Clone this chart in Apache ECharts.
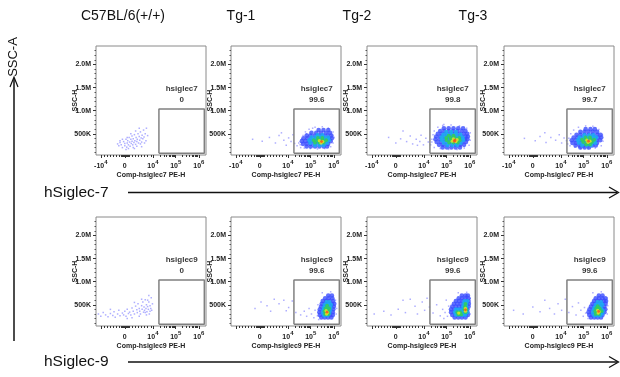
<!DOCTYPE html>
<html>
<head>
<meta charset="utf-8">
<script src="https://cdn.jsdelivr.net/npm/echarts@6/dist/echarts.min.js"></script>
<style>
  html, body { margin: 0; padding: 0; background: #fff; }
  #chart { width: 620px; height: 377px; }
</style>
</head>
<body>
<div id="chart"></div>
<script>
const groups = ["C57BL/6(+/+)", "Tg-1", "Tg-2", "Tg-3"];
const markers = ["hSiglec-7", "hSiglec-9"];
const gateNames = ["hsiglec7", "hsiglec9"];
const xNames = ["Comp-hsiglec7 PE-H", "Comp-hsiglec9 PE-H"];
const gateValues = [["0", "99.6", "99.8", "99.7"], ["0", "99.6", "99.6", "99.6"]];

// x is in biexponential display units, decade ticks sit at these positions
const xTickPos = [-1, 0, 1.17, 2.12, 3.08];
const xTickBase = ["-10", "0", "10", "10", "10"];
const xTickExp = ["4", "", "4", "5", "6"];
const yTickVals = [500, 1000, 1500, 2000]; // SSC-H, in K
const gateX = [1.42, 3.31];
const gateY = [80, 1035];

// sparse events [t, ssc]
const c57Hs7Sparse = [
  [-0.3, 280], [-0.25, 240], [-0.2, 310], [-0.15, 260], [-0.1, 200], [-0.05, 330], [0, 290], [0, 240],
  [0.05, 380], [0.08, 210], [0.1, 300], [0.12, 350], [0.15, 260], [0.18, 420], [0.2, 320], [0.22, 230],
  [0.25, 380], [0.27, 290], [0.3, 340], [0.3, 450], [0.33, 260], [0.35, 390], [0.38, 310], [0.4, 480],
  [0.42, 350], [0.45, 270], [0.47, 420], [0.5, 330], [0.52, 380], [0.55, 500], [0.57, 300], [0.6, 440],
  [0.62, 360], [0.65, 540], [0.68, 410], [0.7, 320], [0.72, 470], [0.75, 390], [0.78, 580], [0.8, 430],
  [0.85, 500], [0.88, 350], [0.9, 620], [0.95, 460], [-0.2, 350], [0.1, 420], [0.35, 200], [0.5, 230],
  [0.65, 280], [0.15, 180], [0.45, 560], [0.6, 620], [0.25, 500], [-0.1, 380], [0.05, 160], [0.7, 220],
  [0.82, 300], [0.4, 180]
];
const c57Hs9Sparse = [
  [-1.1, 300], [-1.0, 250], [-0.9, 330], [-0.8, 280], [-0.7, 240], [-0.6, 310], [-0.5, 270], [-0.45, 350],
  [-0.4, 230], [-0.3, 300], [-0.25, 380], [-0.2, 260], [-0.1, 320], [-0.05, 280], [0, 360], [0.05, 250],
  [0.1, 400], [0.15, 310], [0.2, 340], [0.25, 280], [0.3, 430], [0.35, 360], [0.4, 300], [0.45, 470],
  [0.5, 390], [0.52, 330], [0.55, 520], [0.6, 420], [0.62, 360], [0.65, 300], [0.7, 480], [0.72, 400],
  [0.75, 560], [0.78, 340], [0.8, 450], [0.82, 380], [0.85, 610], [0.88, 420], [0.9, 500], [0.92, 350],
  [0.95, 460], [0.98, 400], [1.0, 560], [1.02, 300], [1.05, 480], [1.08, 420], [1.1, 650], [1.12, 380],
  [1.15, 520], [0.3, 220], [0.6, 250], [0.9, 280], [-0.6, 400], [0.1, 200], [0.7, 620], [1.0, 700],
  [0.4, 550], [0.85, 330], [0.95, 600], [1.05, 360]
];
const tg1Hs7Sparse = [
  [-0.3, 380], [0.1, 340], [0.4, 420], [0.65, 300], [0.8, 460], [1.0, 360], [1.1, 250], [1.2, 410],
  [1.3, 330], [1.38, 480], [1.45, 290], [0.9, 520],
  [1.55, 240], [1.62, 300], [1.7, 200], [1.75, 380], [1.8, 460], [1.9, 540], [2.05, 600], [2.3, 640],
  [2.6, 650], [2.85, 620], [3.05, 540], [3.1, 420], [3.05, 300], [2.95, 220], [2.7, 180], [2.4, 170],
  [2.1, 180], [1.85, 190], [1.68, 260], [3.0, 470], [2.2, 620], [1.95, 500]
];
const tg2Hs7Sparse = [
  [-0.3, 420], [0, 300], [0.2, 390], [0.45, 330], [0.6, 450], [0.7, 280], [0.85, 380], [1.0, 330],
  [1.05, 470], [1.15, 260], [1.25, 400], [1.35, 320], [0.3, 560], [0.9, 250],
  [1.45, 260], [1.5, 380], [1.55, 480], [1.6, 560], [1.75, 640], [1.95, 680], [2.3, 690], [2.65, 670],
  [2.95, 620], [3.1, 520], [3.1, 360], [3.05, 250], [2.85, 190], [2.55, 160], [2.2, 160], [1.85, 180],
  [1.6, 200], [1.5, 320], [2.0, 700]
];
const tg3Hs7Sparse = [
  [-0.35, 400], [0.1, 350], [0.3, 440], [0.55, 310], [0.75, 420], [0.95, 360], [1.1, 480], [1.2, 300],
  [1.3, 410], [0.5, 520], [1.4, 350],
  [1.45, 280], [1.5, 400], [1.58, 500], [1.7, 580], [1.9, 640], [2.2, 670], [2.5, 660], [2.75, 590],
  [2.9, 470], [2.92, 340], [2.85, 240], [2.6, 190], [2.3, 170], [2.0, 180], [1.75, 210], [1.55, 240]
];
const tg1Hs9Sparse = [
  [-0.2, 420], [0.05, 560], [0.3, 480], [0.6, 620], [0.8, 520], [1.0, 600], [1.2, 440], [1.35, 580],
  [1.5, 330], [1.7, 280], [1.85, 360], [1.95, 250], [2.05, 420], [2.15, 300], [2.25, 220], [2.3, 380],
  [2.4, 260], [2.42, 500], [3.2, 420], [3.15, 600], [2.6, 760], [2.95, 780], [3.18, 300], [2.45, 180],
  [1.1, 370], [0.45, 360]
];
const tg2Hs9Sparse = [
  [-0.9, 300], [-0.5, 360], [-0.2, 280], [0.1, 400], [0.4, 330], [0.6, 620], [0.8, 470], [0.9, 300],
  [1.1, 560], [1.2, 380], [1.4, 450], [1.55, 320], [1.7, 500], [1.85, 260], [1.95, 400], [2.05, 330],
  [2.1, 600], [2.15, 250], [2.2, 470], [2.0, 200], [3.1, 640], [3.1, 300], [2.6, 760], [2.95, 770],
  [1.3, 640], [0.3, 600]
];
const tg3Hs9Sparse = [
  [-0.8, 380], [-0.4, 300], [0, 450], [0.3, 350], [0.5, 600], [0.7, 420], [0.9, 300], [1.05, 520],
  [1.2, 380], [1.35, 620], [1.5, 330], [1.65, 460], [1.8, 280], [1.9, 540], [2.0, 380], [2.1, 250],
  [2.15, 440], [2.2, 320], [3.12, 480], [3.1, 650], [2.5, 760], [2.85, 780], [3.1, 300], [2.3, 200]
];

// dense cluster rows [density level, ssc, [t values]]
const tg1Hs7Dense = [
  [2, 580, [2.45, 2.65, 2.85]],
  [2, 520, [2.15, 2.35, 2.55, 2.75, 2.92]],
  [2, 460, [1.95, 2.1, 2.28, 2.46, 2.64, 2.82, 2.98]],
  [2, 400, [1.82, 1.98, 2.15, 2.33, 2.51, 2.69, 2.87, 3.0]],
  [2, 340, [1.75, 1.9, 2.06, 2.24, 2.42, 2.6, 2.78, 2.95]],
  [2, 280, [1.8, 1.96, 2.12, 2.3, 2.48, 2.66, 2.84]],
  [2, 225, [1.95, 2.12, 2.3, 2.48, 2.66, 2.8]],
  [3, 470, [2.4, 2.6]],
  [3, 420, [2.15, 2.32, 2.5, 2.68, 2.84]],
  [3, 360, [2.06, 2.22, 2.4, 2.58, 2.76, 2.88]],
  [3, 300, [2.1, 2.28, 2.46, 2.64, 2.8]],
  [3, 250, [2.3, 2.5, 2.66]],
  [4, 410, [2.42, 2.6]],
  [4, 360, [2.25, 2.42, 2.6, 2.76]],
  [4, 310, [2.3, 2.48, 2.66]],
  [5, 350, [2.48]], [5, 330, [2.62]], [5, 300, [2.55]],
  [6, 330, [2.57]]
];
const tg2Hs7Dense = [
  [2, 620, [2.0, 2.2, 2.4, 2.6, 2.8]],
  [2, 560, [1.85, 2.02, 2.2, 2.38, 2.56, 2.74, 2.9]],
  [2, 500, [1.75, 1.92, 2.1, 2.28, 2.46, 2.64, 2.82, 2.97]],
  [2, 440, [1.68, 1.85, 2.02, 2.2, 2.38, 2.56, 2.74, 2.9, 3.0]],
  [2, 380, [1.65, 1.82, 2.0, 2.18, 2.36, 2.54, 2.72, 2.88, 2.98]],
  [2, 320, [1.7, 1.87, 2.04, 2.22, 2.4, 2.58, 2.76, 2.92]],
  [2, 260, [1.8, 1.97, 2.14, 2.32, 2.5, 2.68, 2.84]],
  [2, 205, [1.95, 2.13, 2.31, 2.49, 2.67]],
  [3, 540, [2.1, 2.3, 2.5]],
  [3, 480, [1.98, 2.15, 2.33, 2.51, 2.69]],
  [3, 420, [1.9, 2.06, 2.24, 2.42, 2.6, 2.78]],
  [3, 360, [1.92, 2.1, 2.28, 2.46, 2.64, 2.8]],
  [3, 300, [2.0, 2.18, 2.36, 2.54, 2.7]],
  [3, 250, [2.15, 2.35, 2.55]],
  [4, 460, [2.2, 2.4]],
  [4, 410, [2.1, 2.28, 2.46, 2.64]],
  [4, 360, [2.12, 2.3, 2.48, 2.66]],
  [4, 310, [2.22, 2.4, 2.58]],
  [5, 390, [2.4]], [5, 370, [2.55]], [5, 340, [2.35]], [5, 330, [2.5]],
  [6, 360, [2.46]], [6, 340, [2.44]]
];
const tg3Hs7Dense = [
  [2, 600, [2.2, 2.4, 2.58]],
  [2, 540, [1.98, 2.15, 2.32, 2.5, 2.68]],
  [2, 480, [1.82, 1.98, 2.15, 2.32, 2.5, 2.68, 2.82]],
  [2, 420, [1.7, 1.86, 2.02, 2.2, 2.38, 2.56, 2.72, 2.85]],
  [2, 360, [1.62, 1.78, 1.95, 2.12, 2.3, 2.48, 2.65, 2.8]],
  [2, 300, [1.65, 1.8, 1.97, 2.14, 2.32, 2.5, 2.67]],
  [2, 245, [1.78, 1.95, 2.12, 2.3, 2.48, 2.62]],
  [2, 205, [1.98, 2.16, 2.34]],
  [3, 470, [2.15, 2.35, 2.52]],
  [3, 420, [1.95, 2.12, 2.3, 2.48, 2.64]],
  [3, 360, [1.88, 2.05, 2.22, 2.4, 2.58]],
  [3, 300, [1.92, 2.1, 2.28, 2.46, 2.6]],
  [3, 250, [2.05, 2.25, 2.42]],
  [4, 420, [2.2, 2.38]],
  [4, 370, [2.05, 2.22, 2.4, 2.55]],
  [4, 320, [2.1, 2.28, 2.46]],
  [4, 270, [2.22, 2.38]],
  [5, 360, [2.25]], [5, 340, [2.38]], [5, 315, [2.3]],
  [6, 340, [2.32]]
];
const tg1Hs9Dense = [
  [2, 700, [2.85, 3.0]],
  [2, 640, [2.72, 2.87, 3.02]],
  [2, 580, [2.62, 2.76, 2.9, 3.05]],
  [2, 520, [2.58, 2.72, 2.86, 3.0, 3.1]],
  [2, 460, [2.55, 2.68, 2.82, 2.96, 3.08]],
  [2, 400, [2.5, 2.64, 2.78, 2.92, 3.06]],
  [2, 340, [2.48, 2.62, 2.76, 2.9, 3.04]],
  [2, 280, [2.5, 2.64, 2.78, 2.92, 3.04]],
  [2, 225, [2.56, 2.7, 2.84, 2.98]],
  [3, 560, [2.78, 2.9]],
  [3, 500, [2.7, 2.84, 2.96]],
  [3, 440, [2.66, 2.8, 2.94]],
  [3, 380, [2.64, 2.78, 2.92]],
  [3, 320, [2.62, 2.76, 2.9]],
  [3, 265, [2.68, 2.82]],
  [4, 480, [2.8]],
  [4, 420, [2.74, 2.88]],
  [4, 360, [2.7, 2.84]],
  [4, 300, [2.72, 2.86]],
  [5, 370, [2.76]], [5, 330, [2.82]], [5, 300, [2.78]],
  [6, 340, [2.8]]
];
const tg2Hs9Dense = [
  [2, 700, [2.75, 2.9, 3.0]],
  [2, 640, [2.62, 2.76, 2.9, 3.02]],
  [2, 580, [2.5, 2.64, 2.78, 2.92, 3.03]],
  [2, 520, [2.42, 2.56, 2.7, 2.84, 2.96, 3.04]],
  [2, 460, [2.35, 2.5, 2.64, 2.78, 2.92, 3.03]],
  [2, 400, [2.3, 2.44, 2.58, 2.72, 2.86, 2.98]],
  [2, 340, [2.3, 2.44, 2.58, 2.72, 2.86, 2.98]],
  [2, 280, [2.35, 2.49, 2.63, 2.77, 2.91, 3.0]],
  [2, 225, [2.45, 2.6, 2.75, 2.9]],
  [3, 580, [2.86, 2.98]],
  [3, 520, [2.82, 2.94]],
  [3, 460, [2.8, 2.94]],
  [3, 400, [2.5, 2.64, 2.8, 2.94]],
  [3, 340, [2.46, 2.6, 2.74, 2.88, 2.98]],
  [3, 280, [2.5, 2.64, 2.78, 2.9]],
  [4, 520, [2.9]],
  [4, 460, [2.88]],
  [4, 400, [2.86, 2.94]],
  [4, 340, [2.56, 2.68, 2.9]],
  [4, 290, [2.6, 2.72]],
  [5, 320, [2.62]], [5, 420, [2.9]], [5, 360, [2.9]],
  [6, 390, [2.9]]
];
const tg3Hs9Dense = [
  [2, 700, [2.75, 2.9]],
  [2, 640, [2.62, 2.76, 2.9, 3.02]],
  [2, 580, [2.55, 2.69, 2.83, 2.97, 3.05]],
  [2, 520, [2.48, 2.62, 2.76, 2.9, 3.03]],
  [2, 460, [2.42, 2.56, 2.7, 2.84, 2.98]],
  [2, 400, [2.36, 2.5, 2.64, 2.78, 2.92, 3.02]],
  [2, 340, [2.32, 2.46, 2.6, 2.74, 2.88, 2.98]],
  [2, 280, [2.35, 2.49, 2.63, 2.77, 2.9]],
  [2, 225, [2.42, 2.56, 2.7, 2.84]],
  [3, 560, [2.7, 2.84]],
  [3, 500, [2.62, 2.76, 2.9]],
  [3, 440, [2.56, 2.7, 2.84]],
  [3, 380, [2.52, 2.66, 2.8, 2.92]],
  [3, 320, [2.5, 2.64, 2.78, 2.9]],
  [3, 265, [2.56, 2.7, 2.82]],
  [4, 470, [2.7]],
  [4, 420, [2.64, 2.78]],
  [4, 360, [2.6, 2.74, 2.86]],
  [4, 300, [2.62, 2.76]],
  [5, 380, [2.7]], [5, 350, [2.76]], [5, 320, [2.72]],
  [6, 355, [2.74]]
];

const panelSparse = [
  [c57Hs7Sparse, tg1Hs7Sparse, tg2Hs7Sparse, tg3Hs7Sparse],
  [c57Hs9Sparse, tg1Hs9Sparse, tg2Hs9Sparse, tg3Hs9Sparse]
];
const panelDense = [
  [[], tg1Hs7Dense, tg2Hs7Dense, tg3Hs7Dense],
  [[], tg1Hs9Dense, tg2Hs9Dense, tg3Hs9Dense]
];

const levelColors = [null, "#9a9aff", "#3a4cff", "#16b2f0", "#34d24c", "#f0e41c", "#ff4a1a"];
const levelSizes = [0, 1.5, 4.6, 4.2, 3.8, 3.3, 2.8];
const font = "'Liberation Sans', Arial, sans-serif";

const gridLeft = [96, 231, 367, 504];
const gridTop = [46, 217];
const gridW = 110, gridH = 109;
const xMin = -1.2, xMax = 3.38, yMin = 40, yMax = 2400;

// minor ticks: linear region near zero, then log decades
const xMinor = [];
for (let t = -1; t < 1.17; t += 0.13) xMinor.push(+t.toFixed(3));
for (let t = -0.16; t <= 0.16; t += 0.02) xMinor.push(+t.toFixed(3));
for (let d = 2; d < 5; d++) {
  const a = xTickPos[d];
  const b = d < 4 ? xTickPos[d + 1] : a + (xTickPos[4] - xTickPos[3]);
  for (let k = 2; k <= 9; k++) {
    const p = a + Math.log10(k) * (b - a);
    if (p < xMax - 0.02) xMinor.push(p);
  }
}
const yMinor = [];
for (let v = 100; v < yMax; v += 100) if (v % 500) yMinor.push(v);

function events(sparse, dense) {
  const out = sparse.map(p => [p[0], p[1], 1]);
  dense.slice().sort((a, b) => a[0] - b[0]).forEach(row => {
    row[2].forEach(t => out.push([t, row[1], row[0]]));
  });
  return out;
}

function xLabel(v) {
  const i = xTickPos.findIndex(p => Math.abs(p - v) < 1e-6);
  if (i < 0) return "";
  return xTickExp[i] ? "{b|" + xTickBase[i] + "}{s|" + xTickExp[i] + "}" : "{b|" + xTickBase[i] + "}";
}

const tickText = { fontSize: 7, fontWeight: "bold", color: "#222", fontFamily: font };
const grid = [], xAxis = [], yAxis = [], series = [];

for (let r = 0; r < 2; r++) {
  for (let c = 0; c < 4; c++) {
    const i = r * 4 + c;
    grid.push({
      left: gridLeft[c], top: gridTop[r], width: gridW, height: gridH,
      show: true, borderColor: "#8a8a8a", borderWidth: 1, backgroundColor: "#fff"
    });
    xAxis.push({
      gridIndex: i, type: "value", min: xMin, max: xMax, position: "bottom",
      name: xNames[r], nameLocation: "middle", nameGap: 17, nameMoveOverlap: false,
      nameTextStyle: tickText,
      axisLine: { show: false, onZero: false }, splitLine: { show: false },
      axisTick: { customValues: xTickPos, length: 3, lineStyle: { color: "#333" } },
      axisLabel: {
        customValues: r === 0 ? xTickPos : xTickPos.slice(1),
        formatter: xLabel, margin: 4,
        rich: {
          b: { fontSize: 7, fontWeight: "bold", color: "#222", fontFamily: font, lineHeight: 15 },
          s: { fontSize: 6, fontWeight: "bold", color: "#222", fontFamily: font, verticalAlign: "top" }
        }
      }
    });
    xAxis.push({
      gridIndex: i, type: "value", min: xMin, max: xMax, position: "bottom",
      axisLine: { show: false, onZero: false }, splitLine: { show: false }, axisLabel: { show: false },
      axisTick: { customValues: xMinor, length: 2, lineStyle: { color: "#333" } }
    });
    yAxis.push({
      gridIndex: i, type: "value", min: yMin, max: yMax, position: "left",
      name: "SSC-H", nameLocation: "middle", nameGap: 17, nameMoveOverlap: false,
      nameTextStyle: tickText,
      axisLine: { show: false, onZero: false }, splitLine: { show: false },
      axisTick: { customValues: yTickVals, length: 3, lineStyle: { color: "#333" } },
      axisLabel: Object.assign({
        customValues: yTickVals, margin: 5,
        formatter: v => (v >= 1000 ? (v / 1000).toFixed(1) + "M" : v + "K")
      }, tickText)
    });
    yAxis.push({
      gridIndex: i, type: "value", min: yMin, max: yMax, position: "left",
      axisLine: { show: false, onZero: false }, splitLine: { show: false }, axisLabel: { show: false },
      axisTick: { customValues: yMinor, length: 1.5, lineStyle: { color: "#555" } }
    });

    series.push({
      type: "scatter", xAxisIndex: 2 * i, yAxisIndex: 2 * i, z: 2, silent: true,
      data: events(panelSparse[r][c], panelDense[r][c]),
      symbol: v => (v[2] === 1 ? "rect" : "circle"),
      symbolSize: v => levelSizes[v[2]],
      itemStyle: { color: p => levelColors[p.value[2]] }
    });
    series.push({
      type: "line", xAxisIndex: 2 * i, yAxisIndex: 2 * i, z: 3, silent: true,
      symbol: "none",
      lineStyle: { color: "#808080", width: 1.5 },
      data: [[gateX[0], gateY[0]], [gateX[1], gateY[0]], [gateX[1], gateY[1]], [gateX[0], gateY[1]], [gateX[0], gateY[0]]]
    });
    series.push({
      type: "scatter", xAxisIndex: 2 * i, yAxisIndex: 2 * i, z: 4, silent: true,
      symbolSize: 0,
      data: [[2.37, 1346]],
      label: {
        show: true, position: "inside",
        formatter: gateNames[r] + "\n" + gateValues[r][c],
        fontSize: 8, fontWeight: "bold", lineHeight: 11, color: "#000", fontFamily: font
      }
    });
  }
}

const graphic = [];
const titleX = [123, 241, 357, 473];
groups.forEach((g, c) => graphic.push({
  type: "text", x: titleX[c], y: 16,
  style: { text: g, fontSize: 14, fontFamily: font, fill: "#111", textAlign: "center", textVerticalAlign: "middle" }
}));
graphic.push({
  type: "text", x: 13, y: 57, rotation: Math.PI / 2,
  style: { text: "SSC-A", fontSize: 13, fontFamily: font, fill: "#111", textAlign: "center", textVerticalAlign: "middle" }
});
graphic.push({ type: "line", shape: { x1: 14, y1: 341, x2: 14, y2: 78 }, style: { stroke: "#111", lineWidth: 1.5 } });
graphic.push({ type: "polyline", shape: { points: [[10, 87], [14, 77], [18, 87]] }, style: { stroke: "#111", lineWidth: 1.2, fill: null } });
[192.5, 362].forEach((y, r) => {
  graphic.push({
    type: "text", x: 44, y: y,
    style: { text: markers[r], fontSize: 15.5, fontFamily: font, fill: "#111", textAlign: "left", textVerticalAlign: "middle" }
  });
  graphic.push({ type: "line", shape: { x1: 128, y1: y, x2: 617, y2: y }, style: { stroke: "#111", lineWidth: 1.6 } });
  graphic.push({ type: "polyline", shape: { points: [[609, y - 5.5], [618.5, y], [609, y + 5.5]] }, style: { stroke: "#111", lineWidth: 1.3, fill: null } });
});

const chart = echarts.init(document.getElementById("chart"));
chart.setOption({
  backgroundColor: "#fff",
  animation: false,
  grid, xAxis, yAxis, series, graphic
});
</script>
</body>
</html>
